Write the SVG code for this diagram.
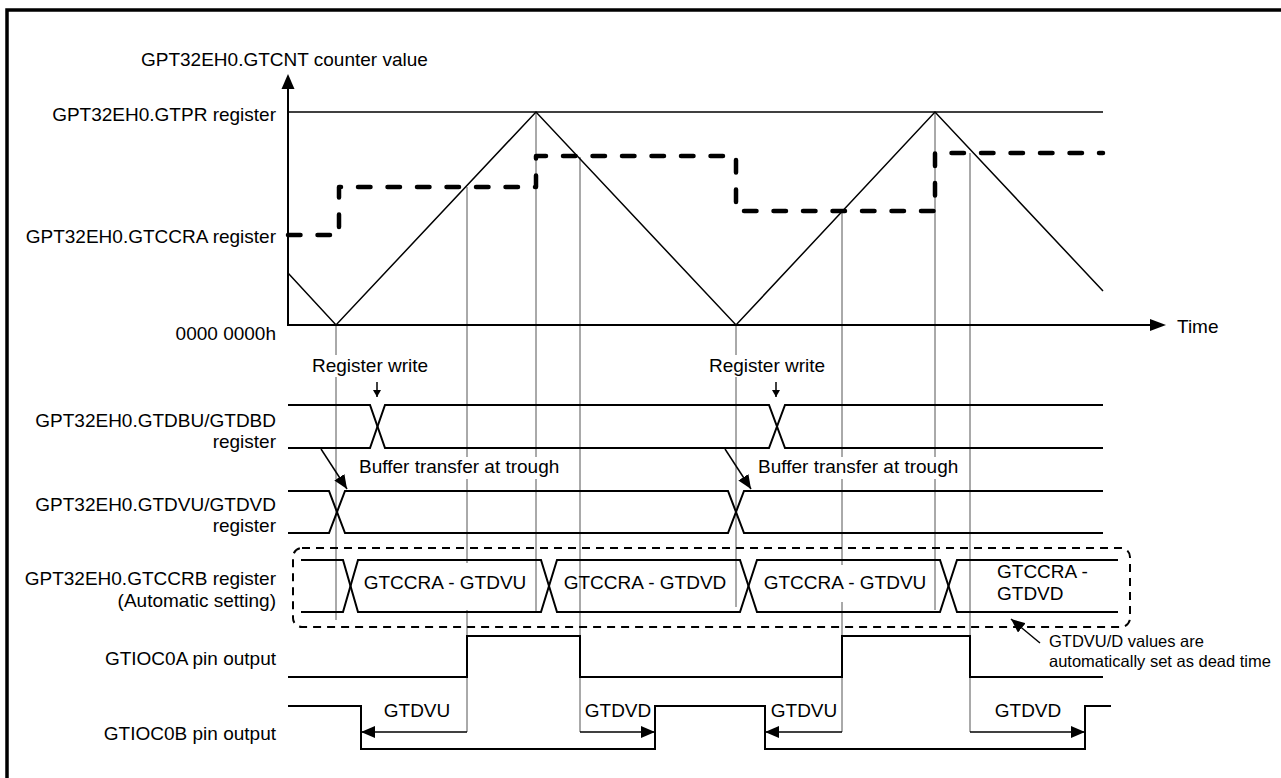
<svg xmlns="http://www.w3.org/2000/svg" width="1281" height="778" viewBox="0 0 1281 778">
<style>
text{font-family:"Liberation Sans",Arial,sans-serif;font-size:19px;fill:#000}
.r{text-anchor:end}
.m{text-anchor:middle}
.sig{fill:none;stroke:#000;stroke-width:2}
.thin{fill:none;stroke:#000;stroke-width:1.5}
.guide{fill:none;stroke:#555;stroke-width:1}
.cra{fill:none;stroke:#000;stroke-width:4.5;stroke-dasharray:12.5 17;stroke-linecap:round;stroke-linejoin:round}
.box{fill:none;stroke:#000;stroke-width:2;stroke-dasharray:8 6}
.bg{fill:#fff}
.small{font-size:16.5px}
</style>
<defs>
<marker id="ah" viewBox="0 0 14 12" refX="14" refY="6" markerWidth="14" markerHeight="12" markerUnits="userSpaceOnUse" orient="auto"><path d="M0,0 L14,6 L0,12 z" fill="#000"/></marker>
<marker id="ahs" viewBox="0 0 7 8" refX="7" refY="4" markerWidth="7" markerHeight="8" markerUnits="userSpaceOnUse" orient="auto"><path d="M0,0 L7,4 L0,8 z" fill="#000"/></marker>
</defs>
<rect width="1281" height="778" fill="#fff"/>
<path d="M7,778 V10 H1281" fill="none" stroke="#000" stroke-width="3.5"/>

<g id="connectors">
  <!-- guide lines -->
  <path class="guide" d="M336,325 V620 M467,187 V732 M536,112 V612 M580,157 V732 M736,325 V607 M842,211 V732 M935,112 V610 M970,153 V732"/>
</g>

<g id="axes">
  <path class="sig" d="M288,88 V325 H1152"/>
  <polygon points="288,74 281.5,89 294.5,89" fill="#000"/>
  <polygon points="1166,325 1150,319 1150,331" fill="#000"/>
  <text x="141" y="66">GPT32EH0.GTCNT counter value</text>
  <text x="1177" y="333">Time</text>
  <text class="r" x="276" y="121">GPT32EH0.GTPR register</text>
  <text class="r" x="276" y="243">GPT32EH0.GTCCRA register</text>
  <text class="r" x="276" y="340">0000 0000h</text>
</g>

<g id="counter">
  <path class="thin" d="M288,112 H1103"/>
  <path class="thin" d="M288,273 L336,325 L536,112 L736,325 L935,112 L1103,291"/>
  <path class="cra" d="M288,235 H339 V187 H536 V156 H736 V211 H935 V153 H1103"/>
</g>

<g id="register-write">
  <rect class="bg" x="309" y="355" width="125" height="22"/>
  <text x="312" y="372">Register write</text>
  <line class="thin" x1="377" y1="382" x2="377" y2="397" marker-end="url(#ahs)"/>
  <rect class="bg" x="706" y="355" width="125" height="22"/>
  <text x="709" y="372">Register write</text>
  <line class="thin" x1="776" y1="382" x2="776" y2="397" marker-end="url(#ahs)"/>
</g>

<g id="gtdbu">
  <text class="r" x="276" y="427">GPT32EH0.GTDBU/GTDBD</text>
  <text class="r" x="276" y="448">register</text>
  <path class="sig" d="M288,405 H370 L385,448 H769 L785,405 H1103"/>
  <path class="sig" d="M288,448 H370 L385,405 H769 L785,448 H1103"/>
</g>

<g id="buffer-transfer">
  <rect class="bg" x="357" y="457" width="212" height="22"/>
  <text x="359" y="473">Buffer transfer at trough</text>
  <line class="thin" x1="321" y1="449" x2="347" y2="489" marker-end="url(#ah)"/>
  <rect class="bg" x="755" y="457" width="210" height="22"/>
  <text x="758" y="473">Buffer transfer at trough</text>
  <line class="thin" x1="725" y1="449" x2="751" y2="489" marker-end="url(#ah)"/>
</g>

<g id="gtdvu">
  <text class="r" x="276" y="511">GPT32EH0.GTDVU/GTDVD</text>
  <text class="r" x="276" y="532">register</text>
  <path class="sig" d="M288,491 H329 L345,533 H728 L744,491 H1103"/>
  <path class="sig" d="M288,533 H329 L345,491 H728 L744,533 H1103"/>
</g>

<g id="gtccrb">
  <text class="r" x="276" y="585">GPT32EH0.GTCCRB register</text>
  <text class="r" x="276" y="607">(Automatic setting)</text>
  <rect class="box" x="293" y="548" width="837" height="79" rx="9"/>
  <rect class="bg" x="360" y="563" width="170" height="47"/>
  <rect class="bg" x="760" y="565" width="170" height="37"/>
  <path class="sig" d="M301,560 H343 L358,612 H541 L557,560 H740 L757,612 H940 L957,560 H1118"/>
  <path class="sig" d="M301,612 H343 L358,560 H541 L557,612 H740 L757,560 H940 L957,612 H1118"/>
  <text class="m" x="445" y="589">GTCCRA - GTDVU</text>
  <text class="m" x="645" y="589">GTCCRA - GTDVD</text>
  <text class="m" x="845" y="589">GTCCRA - GTDVU</text>
  <text x="997" y="578">GTCCRA -</text>
  <text x="997" y="600">GTDVD</text>
</g>

<g id="dead-time-note">
  <line class="thin" x1="1040" y1="643" x2="1011" y2="619" marker-end="url(#ah)"/>
  <text class="small" x="1049" y="647">GTDVU/D values are</text>
  <text class="small" x="1049" y="667">automatically set as dead time</text>
</g>

<g id="gtioc0a">
  <text class="r" x="276" y="665">GTIOC0A pin output</text>
  <path class="sig" d="M288,677 H467 V636 H580 V677 H842 V636 H970 V677 H1103"/>
</g>

<g id="gtioc0b">
  <text class="r" x="276" y="740">GTIOC0B pin output</text>
  <path class="sig" d="M288,706 H361 V749 H655 V706 H765 V749 H1085 V706 H1111"/>
  <line class="thin" x1="467" y1="732" x2="361" y2="732" marker-end="url(#ah)"/>
  <line class="thin" x1="580" y1="732" x2="655" y2="732" marker-end="url(#ah)"/>
  <line class="thin" x1="842" y1="732" x2="765" y2="732" marker-end="url(#ah)"/>
  <line class="thin" x1="970" y1="732" x2="1085" y2="732" marker-end="url(#ah)"/>
  <text class="m" x="417" y="717">GTDVU</text>
  <text class="m" x="618" y="717">GTDVD</text>
  <text class="m" x="804" y="717">GTDVU</text>
  <text class="m" x="1028" y="717">GTDVD</text>
</g>
</svg>
